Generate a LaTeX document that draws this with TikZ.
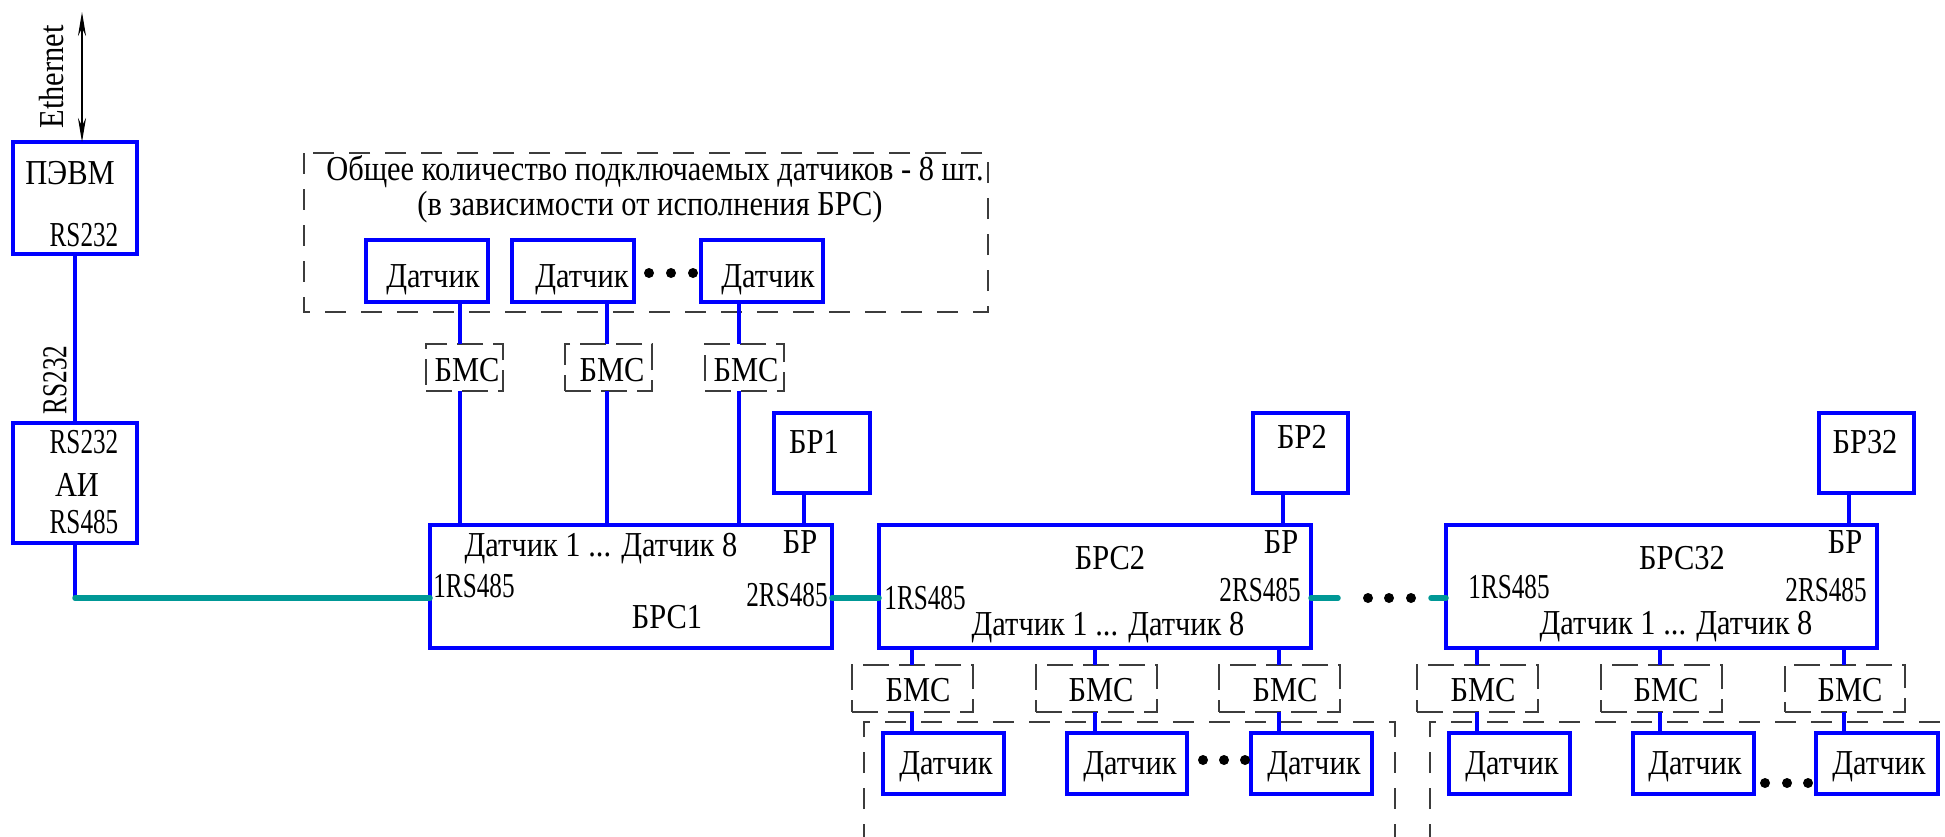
\documentclass[tikz,border=0pt]{standalone}
\usepackage{fontspec}
\setmainfont{Liberation Serif}[FakeStretch=0.87]
\newfontfamily\rsf{Liberation Serif}[FakeStretch=0.72]
\usetikzlibrary{arrows.meta,calc}
\definecolor{tealc}{RGB}{0,152,150}
\definecolor{dashc}{RGB}{60,60,60}
\tikzset{
  bx/.style={draw=blue, line width=3.5pt, rectangle, inner sep=0pt, outer sep=0pt},
  grpbox/.style={draw=dashc, line width=1.4pt, dash pattern=on 21pt off 15pt},
  bmsbox/.style={draw=dashc, line width=1.4pt, dash pattern=on 26pt off 10pt, rectangle, inner sep=0pt, outer sep=0pt},
  bl/.style={draw=blue, line width=3.2pt},
  tl/.style={draw=tealc, line width=5.5pt, line cap=round},
  lbl/.style={inner sep=0pt, font=\fontsize{35}{40}\selectfont, text=black},
  rsl/.style={inner sep=0pt, font=\rsf\fontsize{35}{40}\selectfont, text=black},
  dotn/.style={circle, fill=black, inner sep=0pt, minimum size=10pt},
}
\newcommand{\rbox}[6][bx]{\node[#1, minimum width={(#4)-(#2)}, minimum height={(#5)-(#3)}] (#6) at ({((#2)+(#4))/2},{((#3)+(#5))/2}) {};}
\begin{document}
\begin{tikzpicture}[x=1pt,y=-1pt]
\useasboundingbox (0,0) rectangle (1945,836);
% ---------- left column ----------
\rbox{13}{142}{137}{254}{pevm}
\node[lbl] (pevmt) at (70,173) {ПЭВМ};
\node[rsl] (pevmr) at (84,235) {RS232};
\coordinate (etop) at (82,12);
\draw[{Stealth[length=24pt,width=8pt]}-{Stealth[length=24pt,width=8pt]}, line width=1.3pt] (pevm.north -| etop) -- (etop);
\node[lbl, rotate=90] (eth) at (52,77) {Ethernet};
\rbox{13}{423}{137}{543}{ai}
\node[rsl] (air1) at (84,442) {RS232};
\node[lbl] (ait) at (77,485) {АИ};
\node[rsl] (air2) at (84,522) {RS485};
\draw[bl] (pevm.south) -- (ai.north);
\node[rsl, rotate=90] (rsv) at (55,380) {RS232};
\coordinate (ty) at (75,598);
% ---------- top group ----------
\draw[grpbox] (304,153) rectangle (988,312);
\node[lbl] (t1) at (655,172) {Общее количество подключаемых датчиков - 8 шт.};
\node[lbl] (t2) at (650,207) {(в зависимости от исполнения БРС)};
\rbox{366}{240}{488}{302}{dA1}
\rbox{512}{240}{634}{302}{dA2}
\rbox{701}{240}{823}{302}{dA3}
\node[lbl] at (433,280) {Датчик};
\node[lbl] at (582,280) {Датчик};
\node[lbl] at (768,280) {Датчик};
\node[dotn] (da) at (649,273) {};
\node[dotn] (db) at (671,273) {};
\node[dotn] (dc) at (693,273) {};
\rbox[bmsbox]{426}{344}{503}{391}{mA1}
\rbox[bmsbox]{565}{344}{652}{391}{mA2}
\rbox[bmsbox]{705}{344}{784}{391}{mA3}
\node[lbl] at (467,370) {БМС};
\node[lbl] at (612,370) {БМС};
\node[lbl] at (746,370) {БМС};
% ---------- BRS1 ----------
\rbox{430}{525}{832}{648}{brs1}
\node[lbl] at (601,549) {Датчик 1 ... Датчик 8};
\node[lbl] at (800,542) {БР};
\node[rsl] at (474,586) {1RS485};
\node[rsl] at (787,595) {2RS485};
\node[lbl] at (667,617) {БРС1};
\rbox{774}{413}{870}{493}{br1}
\node[lbl] at (814,442) {БР1};
\coordinate (xa1) at (460,0);
\coordinate (xa2) at (607,0);
\coordinate (xa3) at (739,0);
\coordinate (xb1) at (804,0);
\foreach \i in {1,2,3}{
  \draw[bl] (dA\i.south -| xa\i) -- (mA\i.north -| xa\i);
  \draw[bl] (mA\i.south -| xa\i) -- (brs1.north -| xa\i);
}
\draw[bl] (br1.south -| xb1) -- (brs1.north -| xb1);
% ---------- BRS2 ----------
\rbox{879}{525}{1311}{648}{brs2}
\node[lbl] at (1110,558) {БРС2};
\node[lbl] at (1281,542) {БР};
\node[rsl] at (925,598) {1RS485};
\node[rsl] at (1260,590) {2RS485};
\node[lbl] at (1108,628) {Датчик 1 ... Датчик 8};
\rbox{1253}{413}{1348}{493}{br2}
\node[lbl] at (1302,437) {БР2};
\coordinate (xb2) at (1283,0);
\draw[bl] (br2.south -| xb2) -- (brs2.north -| xb2);
\rbox[bmsbox]{852}{665}{973}{712}{mB1}
\rbox[bmsbox]{1036}{665}{1157}{712}{mB2}
\rbox[bmsbox]{1219}{665}{1340}{712}{mB3}
\node[lbl] at (918,690) {БМС};
\node[lbl] at (1101,690) {БМС};
\node[lbl] at (1285,690) {БМС};
\rbox{883}{733}{1004}{794}{dB1}
\rbox{1067}{733}{1187}{794}{dB2}
\rbox{1251}{733}{1372}{794}{dB3}
\node[lbl] at (946,767) {Датчик};
\node[lbl] at (1130,767) {Датчик};
\node[lbl] at (1314,767) {Датчик};
\node[dotn] at (1203,760) {};
\node[dotn] at (1224,760) {};
\node[dotn] at (1245,760) {};
\draw[grpbox] (864,845) -- (864,722) -- (1395,722) -- (1395,845);
\coordinate (xB1) at (912,0);
\coordinate (xB2) at (1095,0);
\coordinate (xB3) at (1279,0);
\foreach \i in {1,2,3}{
  \draw[bl] (brs2.south -| xB\i) -- (mB\i.north -| xB\i);
  \draw[bl] (mB\i.south -| xB\i) -- (dB\i.north -| xB\i);
}
% ---------- BRS32 ----------
\rbox{1446}{525}{1877}{648}{brs32}
\node[lbl] at (1682,558) {БРС32};
\node[lbl] at (1845,542) {БР};
\node[rsl] at (1509,587) {1RS485};
\node[rsl] at (1826,590) {2RS485};
\node[lbl] at (1676,627) {Датчик 1 ... Датчик 8};
\rbox{1819}{413}{1914}{493}{br32}
\node[lbl] at (1865,442) {БР32};
\coordinate (xb32) at (1849,0);
\draw[bl] (br32.south -| xb32) -- (brs32.north -| xb32);
\rbox[bmsbox]{1417}{665}{1538}{712}{mC1}
\rbox[bmsbox]{1601}{665}{1722}{712}{mC2}
\rbox[bmsbox]{1785}{665}{1905}{712}{mC3}
\node[lbl] at (1483,690) {БМС};
\node[lbl] at (1666,690) {БМС};
\node[lbl] at (1850,690) {БМС};
\rbox{1449}{733}{1570}{794}{dC1}
\rbox{1633}{733}{1754}{794}{dC2}
\rbox{1816}{733}{1938}{794}{dC3}
\node[lbl] at (1512,767) {Датчик};
\node[lbl] at (1695,767) {Датчик};
\node[lbl] at (1879,767) {Датчик};
\node[dotn] at (1765,783) {};
\node[dotn] at (1787,783) {};
\node[dotn] at (1808,783) {};
\draw[grpbox] (1430,845) -- (1430,722) -- (1960,722);
\coordinate (xC1) at (1477,0);
\coordinate (xC2) at (1660,0);
\coordinate (xC3) at (1844,0);
\foreach \i in {1,2,3}{
  \draw[bl] (brs32.south -| xC\i) -- (mC\i.north -| xC\i);
  \draw[bl] (mC\i.south -| xC\i) -- (dC\i.north -| xC\i);
}
% ---------- bus ----------
\draw[bl] (ai.south) -- (ty);
\draw[tl] (ty) -- (brs1.west |- ty);
\draw[tl] (brs1.east |- ty) -- (brs2.west |- ty);
\coordinate (te1) at (1338,598);
\coordinate (te2) at (1431,598);
\draw[tl] (brs2.east |- ty) -- (te1);
\node[dotn] at (1368,598) {};
\node[dotn] at (1389,598) {};
\node[dotn] at (1411,598) {};
\draw[tl] (te2) -- (brs32.west |- ty);
\end{tikzpicture}
\end{document}
